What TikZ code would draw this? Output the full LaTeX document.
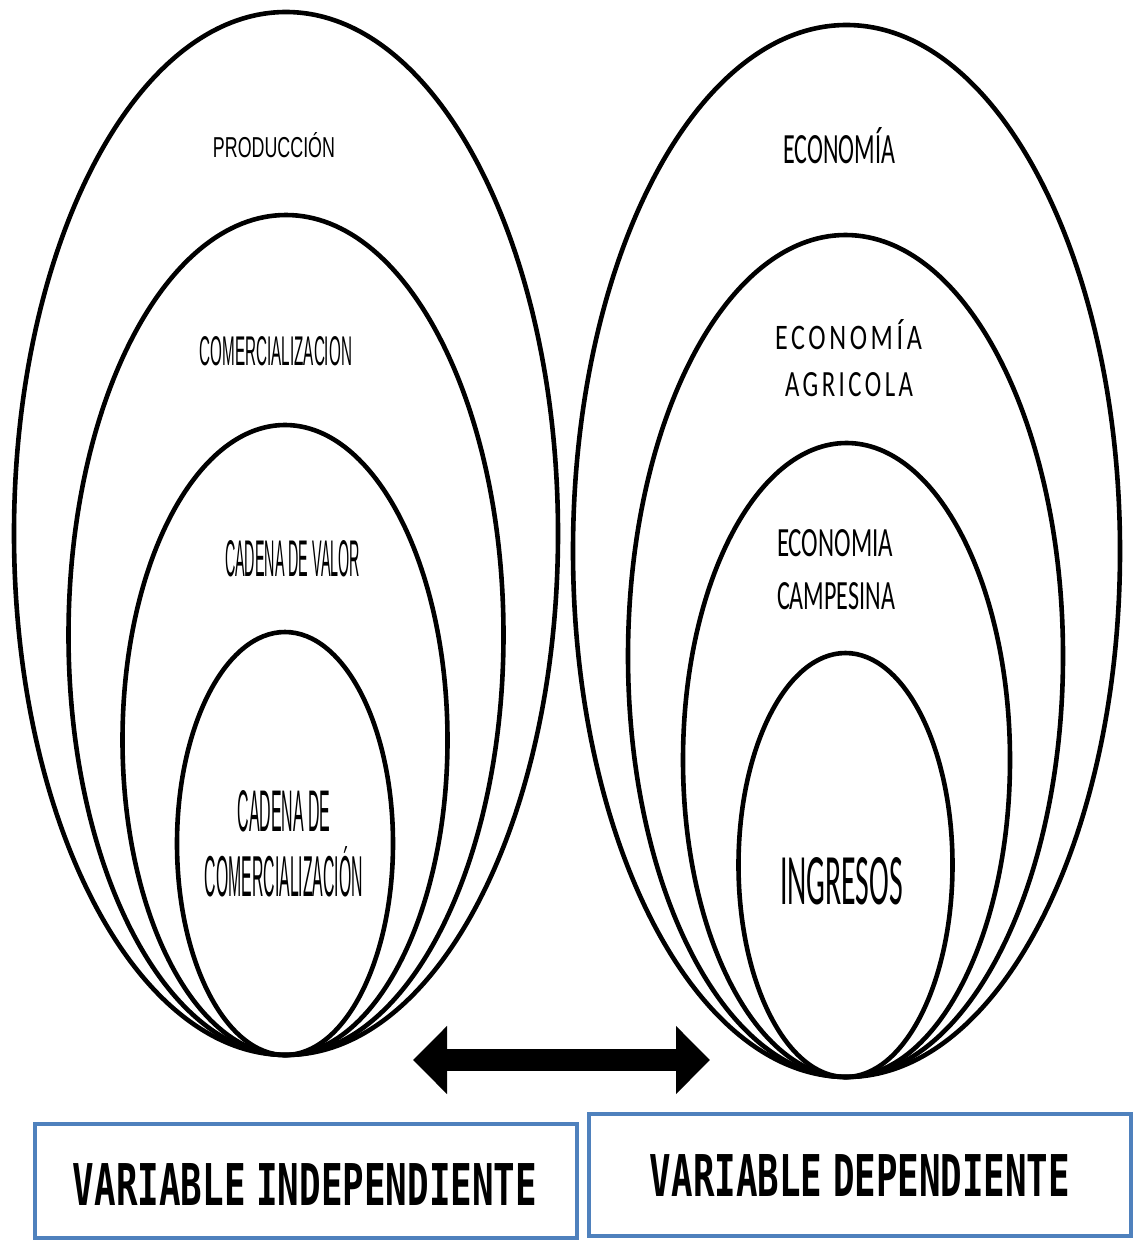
\documentclass[tikz,border=0pt]{standalone}
\usepackage{fontspec}
\setmainfont{Liberation Sans}
\newfontfamily\carl{Carlito}
\newfontfamily\carlsp{Carlito}[LetterSpace=14]
\newfontfamily\dmono{DejaVu Sans Mono}
\usetikzlibrary{shapes.geometric,arrows.meta}
\definecolor{boxblue}{RGB}{79,129,189}
\newcommand{\fitlab}[3]{\resizebox{#1pt}{#2pt}{#3}}
\begin{document}
\begin{tikzpicture}[x=1pt,y=-1pt,
  egg/.style={draw, ellipse, line width=4.6pt, inner sep=0pt},
  lab/.style={inner sep=0pt, text=black},
  varbox/.style={draw=boxblue, line width=4.5pt, inner sep=0pt, fill=white}]
\useasboundingbox (0,0) rectangle (1133,1240);
\fill[white] (0,0) rectangle (1133,1240);
% left set
\node[egg, minimum width=544pt, minimum height=1043pt] (L1) at (286,533.5) {};
\node[egg, minimum width=435pt, minimum height=840pt] (L2) at (286,635) {};
\node[egg, minimum width=325pt, minimum height=630pt] (L3) at (285,740) {};
\node[egg, minimum width=216pt, minimum height=423pt] (L4) at (285,843.5) {};
% right set
\node[egg, minimum width=547pt, minimum height=1052pt] (R1) at (846.5,551) {};
\node[egg, minimum width=435pt, minimum height=842pt] (R2) at (845.5,656) {};
\node[egg, minimum width=327pt, minimum height=634pt] (R3) at (846.5,760) {};
\node[egg, minimum width=214pt, minimum height=424pt] (R4) at (845.5,865) {};
% left labels
\node[lab] (tProd) at (274,145.5) {\fitlab{122}{25}{PRODUCCIÓN}};
\node[lab] (tCom) at (276,351.5) {\fitlab{152}{29}{COMERCIALIZACION}};
\node[lab] (tVal) at (292.5,559) {\fitlab{135}{36}{CADENA DE VALOR}};
\node[lab] (tCad1) at (284,811) {\fitlab{93}{41}{CADENA DE}};
\node[lab] (tCad2) at (284,872) {\fitlab{158}{50}{COMERCIALIZACIÓN}};
% right labels
\node[lab] (tEco) at (839,146) {\fitlab{112}{36}{\carl ECONOMÍA}};
\node[lab] (tAg1) at (848.5,335) {\fitlab{147}{30}{\carlsp ECONOMÍA}};
\node[lab] (tAg2) at (849,385) {\fitlab{128}{24}{\carlsp AGRICOLA}};
\node[lab] (tCa1) at (835,543.5) {\fitlab{116}{27}{\carl ECONOMIA}};
\node[lab] (tCa2) at (836,596.5) {\fitlab{118}{27}{\carl CAMPESINA}};
\node[lab] (tIng) at (841.5,881.5) {\fitlab{123}{47}{\carl INGRESOS}};
% double arrow
\coordinate (aL) at (413,1060);
\coordinate (aR) at (710,1060);
\draw[line width=22pt, {Triangle[length=34pt,width=66pt]}-{Triangle[length=34pt,width=66pt]}] (aL) -- (aR);
% boxes
\node[varbox, minimum width=542pt, minimum height=114pt] (bInd) at (306,1181) {};
\node[lab] (tInd) at (305,1184) {\fitlab{464}{42}{\dmono\bfseries VARIABLE\hspace{0.3em}INDEPENDIENTE}};
\node[varbox, minimum width=542pt, minimum height=122pt] (bDep) at (860,1175) {\fitlab{420}{42}{\dmono\bfseries VARIABLE\hspace{0.3em}DEPENDIENTE}};
\end{tikzpicture}
\end{document}
